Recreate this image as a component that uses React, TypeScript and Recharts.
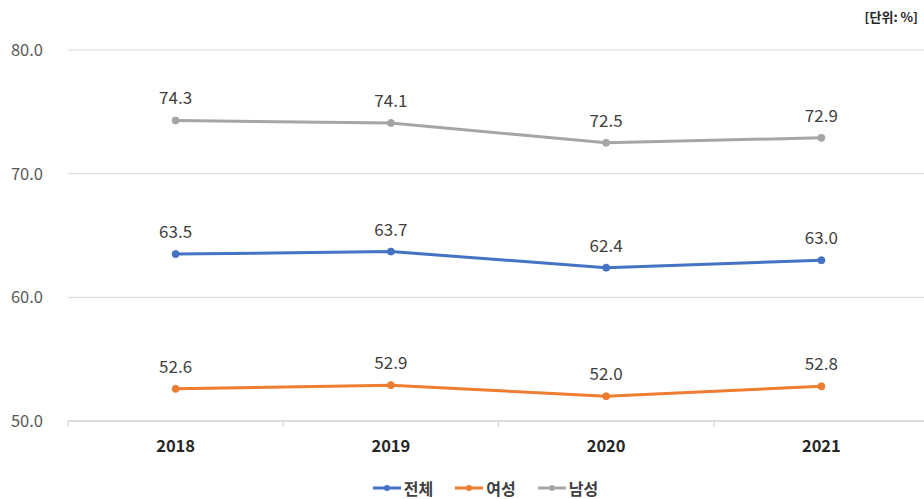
import React from "react";
import { CartesianGrid, LabelList, Legend, Line, LineChart, XAxis, YAxis } from "recharts";

const years = ["2018", "2019", "2020", "2021"];
const total = [63.5, 63.7, 62.4, 63.0];
const female = [52.6, 52.9, 52.0, 52.8];
const male = [74.3, 74.1, 72.5, 72.9];
const yTicks = [50, 60, 70, 80];

const series = [
  { key: "total", name: "전체", color: "#4472C4" },
  { key: "female", name: "여성", color: "#ED7D31" },
  { key: "male", name: "남성", color: "#A5A5A5" },
];

const data = years.map((year, i) => ({
  year,
  total: total[i],
  female: female[i],
  male: male[i],
}));

const FONT = "'Noto Sans CJK KR', 'Noto Sans', sans-serif";

// category label plus small ticks on the band boundaries
function YearTick(props: any) {
  const { x, y, payload, width, visibleTicksCount, index } = props;
  const half = width / visibleTicksCount / 2;
  return (
    <g>
      <line x1={x - half} x2={x - half} y1={y - 8} y2={y - 2} stroke="#d0d0d0" />
      {index === visibleTicksCount - 1 && (
        <line x1={x + half} x2={x + half} y1={y - 8} y2={y - 2} stroke="#d0d0d0" />
      )}
      <text x={x} y={y + 23} textAnchor="middle" fontSize={16.5} fontWeight={700} fill="#262626" fontFamily={FONT}>
        {payload.value}
      </text>
    </g>
  );
}

function LegendRow() {
  return (
    <div
      style={{
        display: "flex",
        justifyContent: "center",
        gap: 22,
        paddingLeft: 42,
        paddingTop: 10,
        fontFamily: FONT,
        fontSize: 16,
        lineHeight: "18px",
        fontWeight: 700,
        color: "#404040",
      }}
    >
      {series.map((s) => (
        <div key={s.key} style={{ display: "flex", alignItems: "center", gap: 3 }}>
          <svg width={28} height={10}>
            <line x1={0} x2={28} y1={5} y2={5} stroke={s.color} strokeWidth={3} />
            <circle cx={14} cy={5} r={3} fill={s.color} />
          </svg>
          <span>{s.name}</span>
        </div>
      ))}
    </div>
  );
}

export default function App() {
  return (
    <div
      style={{
        position: "fixed",
        left: 0,
        top: 0,
        width: 924,
        height: 499,
        overflow: "hidden",
        background: "#fff",
      }}
    >
      <div
        style={{
          position: "absolute",
          right: 6,
          top: 7,
          fontFamily: FONT,
          fontSize: 13,
          fontWeight: 700,
          color: "#262626",
        }}
      >
        [단위: %]
      </div>
      <LineChart width={940} height={499} data={data} margin={{ top: 50, right: 11, left: 0, bottom: 0 }}>
        <CartesianGrid stroke="#d9d9d9" vertical={false} />
        <XAxis
          dataKey="year"
          scale="band"
          axisLine={{ stroke: "#d0d0d0" }}
          tickLine={false}
          height={48}
          interval={0}
          tick={<YearTick />}
        />
        <YAxis
          domain={[50, 80]}
          ticks={yTicks}
          width={68}
          axisLine={false}
          tickLine={false}
          tickFormatter={(v: number) => v.toFixed(1)}
          tick={{ fill: "#595959", fontSize: 16.5, fontFamily: FONT, textAnchor: "end", dx: -17 }}
          interval={0}
        />
        <Legend verticalAlign="bottom" height={30} content={() => <LegendRow />} />
        {series.map((s) => (
          <Line
            key={s.key}
            dataKey={s.key}
            name={s.name}
            stroke={s.color}
            strokeWidth={3}
            dot={{ r: 3.5, fill: s.color, stroke: s.color, strokeWidth: 1 }}
            isAnimationActive={false}
          >
            <LabelList
              dataKey={s.key}
              position="top"
              offset={16}
              formatter={(v: number) => v.toFixed(1)}
              style={{ fill: "#404040", fontSize: 17, fontFamily: FONT }}
            />
          </Line>
        ))}
      </LineChart>
    </div>
  );
}
